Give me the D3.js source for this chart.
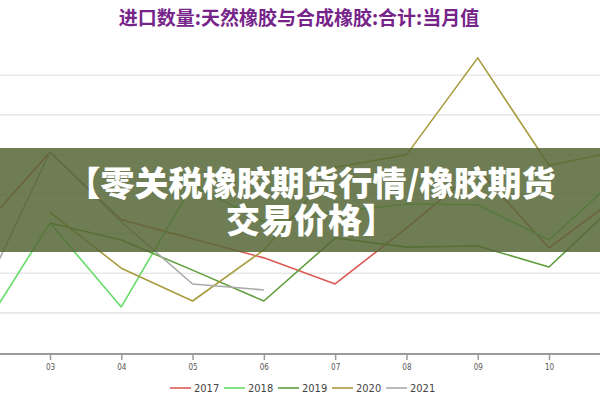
<!DOCTYPE html>
<html>
<head>
<meta charset="utf-8">
<script src="https://cdn.jsdelivr.net/npm/d3@7"></script>
<style>
html,body{margin:0;padding:0;background:#fff;}
#wrap{position:relative;width:600px;height:400px;overflow:hidden;}
svg{display:block;position:absolute;left:0;top:0;}
#banner{position:absolute;left:22px;top:163px;width:578px;text-align:center;
  font-family:'Noto Sans CJK SC',sans-serif;font-weight:900;font-size:34px;
  line-height:37px;color:#fff;white-space:pre;}
</style>
</head>
<body>
<div id="wrap">
<svg id="chart" width="600" height="400"></svg>
<div id="banner"></div>
</div>
<script>
// ---- data ----
const chartTitle = "进口数量:天然橡胶与合成橡胶:合计:当月值";
const bannerLines = ["【零关税橡胶期货行情/橡胶期货", "交易价格】"];
const months = ["02","03","04","05","06","07","08","09","10","11"];
const tickMonths = ["03","04","05","06","07","08","09","10"];
const seriesNames = ["2017","2018","2019","2020","2021"];
const v2017 = [30.4, 50.6, 33.5, 28.7, 23.9, 17.3, 31.4, 46.3, 26.4, 39.8];
const v2018 = [4.2, 32.7, 11.5, 42.3, 33.0, 35.5, 37.5, 37.3, 28.4, 44.8];
const v2019 = [null, 32.7, 28.4, 20.8, 13.0, 28.9, 26.6, 26.9, 21.6, 38.5];
const v2020 = [null, 35.4, 21.3, 13.0, 25.9, 46.8, 49.9, 74.4, 47.3, 50.9];
const v2021 = [12.5, 50.6, 33.0, 17.3, 15.8, null, null, null, null, null];
const gridValues = [10, 20, 30, 40, 50, 60, 70];
const seriesColors = ["#dc5a55", "#66dd66", "#5e9e3a", "#a89c3e", "#a9a9a9"];

const seriesData = [v2017, v2018, v2019, v2020, v2021];

// ---- scales ----
const svg = d3.select("#chart");
const x = d3.scalePoint().domain(months).range([-21.3, 620.3]);
const y = d3.scaleLinear().domain([0, 80]).range([352.5, 35.7]);

// grid
svg.append("g").selectAll("line").data(gridValues).join("line")
  .attr("x1", 0).attr("x2", 600)
  .attr("y1", d => y(d)).attr("y2", d => y(d))
  .attr("stroke", "#e8e8e8").attr("stroke-width", 1.6);

// axis
const axis = d3.axisBottom(x).tickValues(tickMonths).tickSize(6).tickPadding(4);
const ax = svg.append("g").attr("transform", `translate(0,${354})`).call(axis);
ax.select(".domain").remove();
ax.append("line").attr("x1", 0).attr("x2", 600).attr("y1", 0).attr("y2", 0)
  .attr("stroke", "#9a9a9a").attr("stroke-width", 2);
ax.selectAll(".tick line").attr("stroke", "#9a9a9a").attr("stroke-width", 1.5);
ax.selectAll(".tick text").attr("fill", "#555").attr("font-size", 8)
  .attr("font-family", "'Liberation Sans Narrow','DejaVu Sans Condensed',sans-serif");

// lines
const line = d3.line()
  .defined(d => d.v !== null)
  .x(d => x(d.m)).y(d => y(d.v));

seriesData.forEach((vals, i) => {
  const pts = months.map((m, j) => ({m, v: vals[j]}));
  svg.append("path").datum(pts)
    .attr("d", line)
    .attr("fill", "none")
    .attr("stroke", seriesColors[i])
    .attr("stroke-width", 1.6)
    .attr("stroke-linejoin", "round");
});

// title
svg.append("text").attr("x", 299).attr("y", 25)
  .attr("text-anchor", "middle")
  .attr("font-family", "'Noto Sans CJK SC',sans-serif")
  .attr("font-weight", 700).attr("font-size", 19)
  .attr("fill", "#76248a")
  .text(chartTitle);

// legend
const lg = svg.append("g").attr("transform", "translate(170,388)");
seriesNames.forEach((name, i) => {
  const g = lg.append("g").attr("transform", `translate(${i * 54},0)`);
  g.append("line").attr("x1", 0).attr("x2", 21).attr("y1", 0).attr("y2", 0)
    .attr("stroke", seriesColors[i]).attr("stroke-width", 1.6);
  g.append("text").attr("x", 24).attr("y", 4)
    .attr("font-size", 11).attr("fill", "#444")
    .attr("font-family", "'Liberation Sans Narrow','DejaVu Sans Condensed',sans-serif")
    .text(name);
});

// banner overlay
svg.append("rect").attr("x", 0).attr("y", 148).attr("width", 600).attr("height", 104)
  .attr("fill", "#566636").attr("opacity", 0.85);

d3.select("#banner").text(bannerLines.join("\n"));
</script>
</body>
</html>
